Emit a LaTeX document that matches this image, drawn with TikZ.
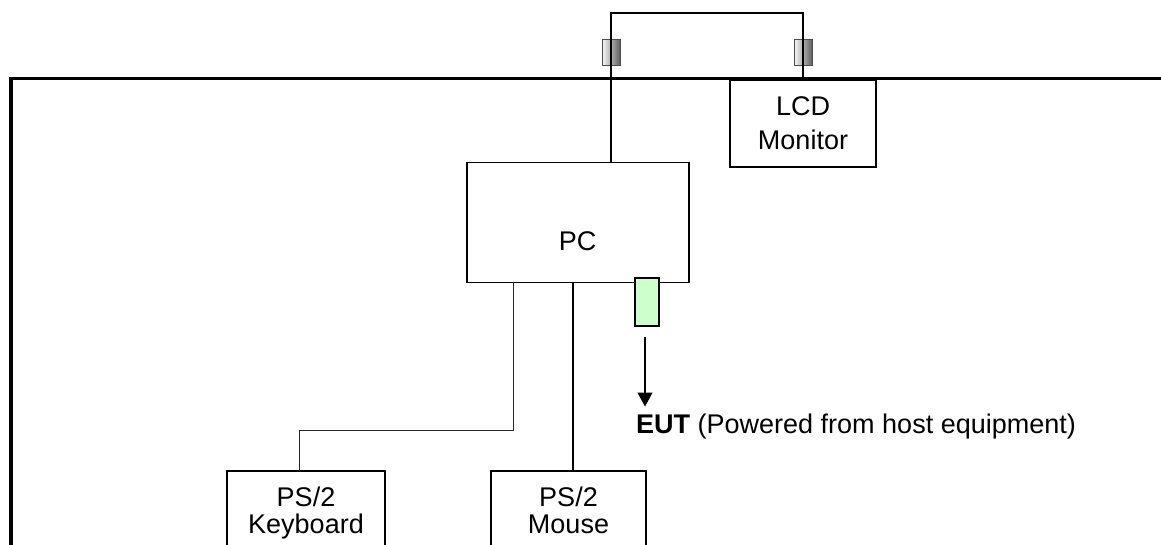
\documentclass[tikz,border=0pt]{standalone}
\usepackage{fontspec}
\setmainfont{Liberation Sans}
\usetikzlibrary{arrows.meta}
\usetikzlibrary{positioning}
\definecolor{eutgreen}{RGB}{204,255,204}

\tikzset{
  unit/.style={draw, line width=1.6pt, inner sep=0pt, align=center,
    font=\fontsize{27}{27}\selectfont},
  cable/.style={line width=1pt},
  plug/.style={draw=gray!60!black, line width=1pt, left color=gray!5,
    right color=gray!75!black, minimum width=18pt, minimum height=26pt, inner sep=0pt},
}

\begin{document}
\begin{tikzpicture}[x=1pt, y=1pt]
  \useasboundingbox (0,0) rectangle (1161,545);
  \clip (0,0) rectangle (1161,545);

  % 机
  \draw[line width=3.5pt] (11,-10) -- (11,466.3) -- (1175,466.3);

  % 機器
  \node[unit, minimum width=222pt, minimum height=120pt, text height=55pt, text depth=0pt]
    (pc) at (577.7,322.3) {PC};
  \node[unit, minimum width=146pt, minimum height=87pt, font=\fontsize{27}{34}\selectfont]
    (lcd) at (803,421.5) {LCD\\Monitor};
  \node[unit, anchor=north, minimum width=158pt, minimum height=85pt]
    (kbd) at (306,75) {PS/2\\Keyboard};
  \node[unit, anchor=north, minimum width=155pt, minimum height=80pt]
    (mouse) at (568.5,75) {PS/2\\Mouse};

  % EUT
  \node[draw, line width=1.6pt, fill=eutgreen, minimum width=24pt, minimum height=48pt,
    inner sep=0pt] (eutport) at (647,243) {};
  \node[anchor=base west, inner sep=0pt, font=\fontsize{27}{27}\selectfont]
    (eut) at (636,111.7) {\textbf{EUT} (Powered from host equipment)};

  % コネクタ
  \node[plug] (plugL) at (611,492) {};
  \node[plug] (plugR) at (803,492) {};

  % ケーブル
  \draw[cable, line width=1.4pt] ([xshift=33.3pt]pc.north) -- ++(0,148.7) -| (lcd.north);
  \draw[cable, gray!30!black] ([xshift=48pt]pc.south west) -- ++(0,-146.8)
    -| ([xshift=-7pt]kbd.north);
  \draw[cable, line width=1.3pt] ([xshift=-4.7pt]pc.south)
    -- ([xshift=-4.7pt]pc.south |- mouse.north);

  % 矢印
  \coordinate (arrtop) at ([xshift=-2pt,yshift=-10pt]eutport.south);
  \draw[cable, line width=1.3pt, -{Triangle[length=14pt,width=15pt]}, shorten >=7pt]
    (arrtop) -- (arrtop |- eut.north);
\end{tikzpicture}
\end{document}
